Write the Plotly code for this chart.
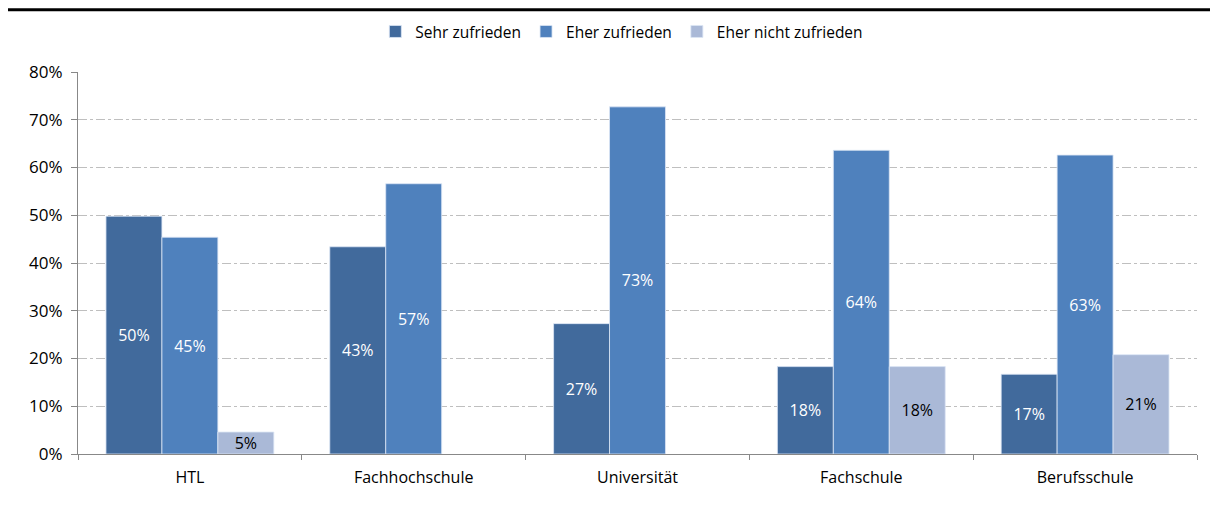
import plotly.graph_objects as go

# Data
schools = ['HTL', 'Fachhochschule', 'Universität', 'Fachschule', 'Berufsschule']
sehr_zufrieden = [49.8, 43.4, 27.3, 18.3, 16.7]
eher_zufrieden = [45.4, 56.6, 72.7, 63.6, 62.6]
eher_nicht_zufrieden = [4.6, None, None, 18.3, 20.8]

series = [
    ('Sehr zufrieden', sehr_zufrieden, '#416A9C', 'white'),
    ('Eher zufrieden', eher_zufrieden, '#4F81BD', 'white'),
    ('Eher nicht zufrieden', eher_nicht_zufrieden, '#AAB9D7', 'black'),
]

fig = go.Figure()
for name, vals, color, txtcol in series:
    fig.add_trace(go.Bar(
        x=schools,
        y=vals,
        name=name,
        marker=dict(color=color, line=dict(color='rgba(220,230,245,0.8)', width=1)),
        text=[f'{int(v + 0.5)}%' if v is not None else '' for v in vals],
        textposition='inside',
        insidetextanchor='middle',
        textfont=dict(color=txtcol, size=16, family='Open Sans'),
        textangle=0,
        hoverinfo='skip',
    ))

fig.update_layout(
    width=1218, height=506,
    barmode='group',
    bargap=0.25,
    bargroupgap=0,
    plot_bgcolor='white',
    paper_bgcolor='white',
    font=dict(family='Open Sans', size=14, color='black'),
    # page body adds ~8px offset, margins compensate
    margin=dict(l=70, r=29, t=64, b=60, autoexpand=False),
    legend=dict(orientation='h', x=0.486, xanchor='center', y=1.105, yanchor='middle',
                font=dict(size=15.5), bgcolor='rgba(0,0,0,0)', traceorder='normal',
                itemwidth=30),
    uniformtext=dict(minsize=12, mode='show'),
    shapes=[dict(type='line', xref='paper', yref='paper', x0=-0.1, x1=1.1,
                 y0=1.163, y1=1.163, line=dict(color='black', width=3))],
)

fig.update_yaxes(
    range=[0, 80], dtick=10, ticksuffix='%',
    showgrid=True, gridcolor='#BFBFBF', griddash='dashdot', gridwidth=1,
    showline=True, linecolor='#888888', linewidth=1,
    ticks='outside', ticklen=6, tickcolor='#888888', ticklabelstandoff=5,
    tickfont=dict(size=17), zeroline=False,
)
fig.update_xaxes(
    showline=True, linecolor='#888888', linewidth=1,
    ticks='outside', tickson='boundaries', ticklen=5, tickcolor='#888888',
    ticklabelstandoff=9,
    tickfont=dict(size=16), showgrid=False,
)

fig.write_html('out.html')
